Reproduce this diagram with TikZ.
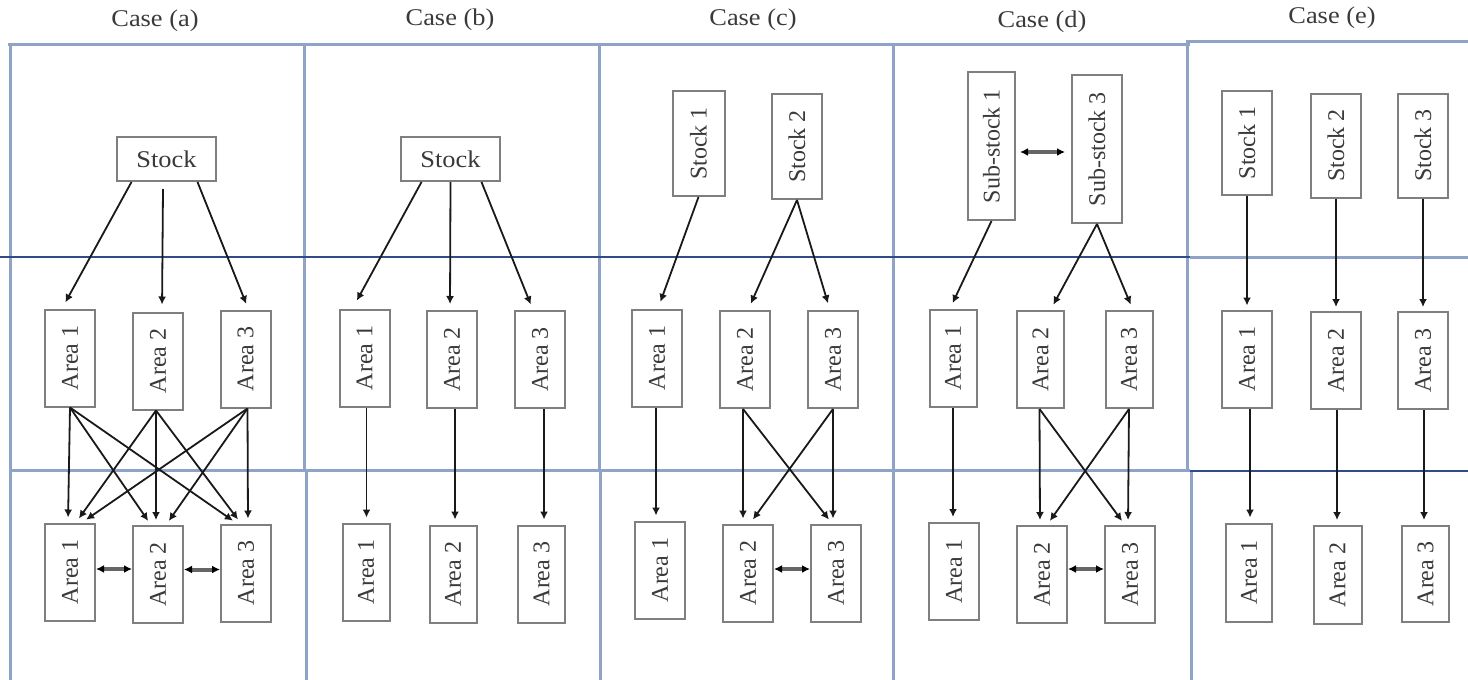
\documentclass[tikz,border=0pt]{standalone}
\usepackage{fontspec}
\setmainfont{Liberation Serif}
\usetikzlibrary{arrows.meta,calc}
\definecolor{gridlight}{HTML}{8FA3C7}
\definecolor{griddark}{HTML}{2F4B8A}
\definecolor{boxgray}{HTML}{7F7F7F}
\definecolor{txt}{HTML}{3A3A3A}
\newcommand{\myvt}[1]{\rotatebox{90}{#1}}
\newcommand{\myht}[1]{\scalebox{1.1}[1]{#1}}
\begin{document}
\begin{tikzpicture}[x=0.5pt,y=-0.5pt,
  box/.style={draw=boxgray, line width=1pt, fill=white, inner sep=0pt, text=txt, font=\fontsize{12}{14}\selectfont},
  hbox/.style={box, minimum width=49.5pt, minimum height=22pt},
  vbox/.style={box, minimum width=25pt, minimum height=48.5pt},
  title/.style={text=txt, font=\fontsize{12}{14}\selectfont},
  lightline/.style={draw=gridlight, line width=1.5pt},
  darkline/.style={draw=griddark, line width=1.4pt},
  arr/.style={-{Latex[length=4pt,width=4pt]}, line width=0.9pt, draw=black!90, shorten >=2.5pt},
  biarr/.style={{Latex[length=4pt,width=4pt,color=black]}-{Latex[length=4pt,width=4pt,color=black]}, line width=2pt, draw=gray!80!black}
]
\useasboundingbox (0,0) rectangle (1468,680);

% ---------- grid ----------
\draw[lightline] (8,44) -- (1190,44);
\draw[lightline] (1186,41) -- (1468,41);
\draw[lightline] (10,44) -- (10,680);
\draw[lightline] (304,44) -- (304,470);
\draw[lightline] (306,470) -- (306,680);
\draw[lightline] (599,44) -- (599,470);
\draw[lightline] (600,470) -- (600,680);
\draw[lightline] (893,44) -- (893,680);
\draw[lightline] (1187,41) -- (1187,470);
\draw[lightline] (1191,470) -- (1191,680);
\draw[lightline] (10,470) -- (1190,470);
\draw[lightline] (1190,257) -- (1468,257);
\draw[darkline] (0,257) -- (1190,257);
\draw[darkline] (1190,471) -- (1468,471);

% ---------- titles ----------
\node[title] (ta) at (155,21) {\myht{Case (a)}};
\node[title] (tb) at (450,20) {\myht{Case (b)}};
\node[title] (tc) at (753,20) {\myht{Case (c)}};
\node[title] (td) at (1042,22) {\myht{Case (d)}};
\node[title] (te) at (1332,18) {\myht{Case (e)}};

% ---------- case (a) ----------
\node[hbox] (aS) at (166.5,159) {\myht{Stock}};
\node[vbox] (aA1) at (70,358) {\myvt{Area 1}};
\node[vbox] (aA2) at (158,361) {\myvt{Area 2}};
\node[vbox] (aA3) at (245.5,359) {\myvt{Area 3}};
\node[vbox] (aB1) at (70,572) {\myvt{Area 1}};
\node[vbox] (aB2) at (158,574.5) {\myvt{Area 2}};
\node[vbox] (aB3) at (246,573) {\myvt{Area 3}};

\draw[arr, shorten >=3.5pt] ([xshift=-17.5pt]aS.south) -- ([xshift=-4pt]aA1.north);
\draw[arr, shorten >=3.5pt] ([shift={(-3.5,7)}]aS.south) -- ([xshift=2pt]aA2.north);
\draw[arr, shorten >=3pt] ([xshift=15.5pt]aS.south) -- ([xshift=1.5pt]aA3.north);

\draw[arr] (aA1.south) -- ([xshift=-1pt]aB1.north);
\draw[arr] (aA1.south) -- ([xshift=-3.5pt]aB2.north);
\draw[arr] (aA1.south) -- ([xshift=-4.5pt]aB3.north);
\draw[arr] ([xshift=-1pt]aA2.south) -- ([xshift=3pt]aB1.north);
\draw[arr] ([xshift=-1pt]aA2.south) -- ([xshift=-1pt]aB2.north);
\draw[arr] ([xshift=-1pt]aA2.south) -- ([xshift=-2.5pt]aB3.north);
\draw[arr] ([xshift=1pt]aA3.south) -- ([xshift=6pt]aB1.north);
\draw[arr] ([xshift=1pt]aA3.south) -- ([xshift=4pt]aB2.north);
\draw[arr] ([xshift=1pt]aA3.south) -- ([xshift=1pt]aB3.north);

\draw[biarr] ([yshift=1.5pt]aB1.east) -- ([yshift=1.5pt]aB1.east -| aB2.west);
\draw[biarr] ([yshift=2.5pt]aB2.east) -- ([yshift=2.5pt]aB2.east -| aB3.west);

% ---------- case (b) ----------
\node[hbox] (bS) at (450.5,159) {\myht{Stock}};
\node[vbox] (bA1) at (364.5,358) {\myvt{Area 1}};
\node[vbox] (bA2) at (452,359.5) {\myvt{Area 2}};
\node[vbox] (bA3) at (540,359.5) {\myvt{Area 3}};
\node[vbox, minimum width=23.5pt] (bB1) at (366,572) {\myvt{Area 1}};
\node[vbox, minimum width=23.5pt] (bB2) at (453,574) {\myvt{Area 2}};
\node[vbox, minimum width=23.5pt] (bB3) at (541.5,574) {\myvt{Area 3}};

\draw[arr, shorten >=4.5pt] ([xshift=-14.5pt]bS.south) -- ([xshift=-6pt]bA1.north);
\draw[arr, shorten >=3pt] (bS.south) -- ([xshift=-1pt]bA2.north);
\draw[arr, shorten >=3pt] ([xshift=15.5pt]bS.south) -- ([xshift=-3.5pt]bA3.north);
\draw[arr] ([xshift=1pt]bA1.south) -- ([xshift=1pt]bA1.south |- bB1.north);
\draw[arr] ([xshift=1.5pt]bA2.south) -- ([xshift=1.5pt]bA2.south |- bB2.north);
\draw[arr] ([xshift=2pt]bA3.south) -- ([xshift=2pt]bA3.south |- bB3.north);

% ---------- case (c) ----------
\node[box, minimum width=26pt, minimum height=52.5pt] (cS1) at (698.5,143.5) {\myvt{Stock 1}};
\node[box, minimum width=25pt, minimum height=52.5pt] (cS2) at (797,146.5) {\myvt{Stock 2}};
\node[vbox] (cA1) at (657,358) {\myvt{Area 1}};
\node[vbox] (cA2) at (745,359.5) {\myvt{Area 2}};
\node[vbox] (cA3) at (833,359.5) {\myvt{Area 3}};
\node[vbox] (cB1) at (660,570) {\myvt{Area 1}};
\node[vbox] (cB2) at (748,573) {\myvt{Area 2}};
\node[vbox] (cB3) at (836,573) {\myvt{Area 3}};

\draw[arr, shorten >=3.5pt] (cS1.south) -- ([xshift=0.5pt]cA1.north);
\draw[arr, shorten >=3.5pt] (cS2.south) -- ([xshift=1.5pt]cA2.north);
\draw[arr, shorten >=3.5pt] (cS2.south) -- ([xshift=-1.5pt]cA3.north);
\draw[arr] ([xshift=-0.5pt]cA1.south) -- ([xshift=-0.5pt]cA1.south |- cB1.north);
\draw[arr] ([xshift=-1pt]cA2.south) -- ([xshift=-2.5pt]cB2.north);
\draw[arr] ([xshift=-1pt]cA2.south) -- ([xshift=-2pt]cB3.north);
\draw[arr] (cA3.south) -- ([xshift=-1.5pt]cB3.north);
\draw[arr] (cA3.south) -- ([xshift=1pt]cB2.north);
\draw[biarr] ([yshift=2pt]cB2.east) -- ([yshift=2pt]cB2.east -| cB3.west);

% ---------- case (d) ----------
\node[box, minimum width=23.5pt, minimum height=74pt] (dS1) at (991.5,146) {\myvt{Sub-stock 1}};
\node[box, minimum width=25pt, minimum height=74pt] (dS3) at (1097,149) {\myvt{Sub-stock 3}};
\node[vbox, minimum width=23.5pt] (dA1) at (953,358) {\myvt{Area 1}};
\node[vbox, minimum width=23.5pt] (dA2) at (1040.5,359.5) {\myvt{Area 2}};
\node[vbox, minimum width=23.5pt] (dA3) at (1129,359.5) {\myvt{Area 3}};
\node[vbox] (dB1) at (954,571.5) {\myvt{Area 1}};
\node[vbox] (dB2) at (1042,574.5) {\myvt{Area 2}};
\node[vbox] (dB3) at (1130,574.5) {\myvt{Area 3}};

\draw[biarr, shorten <=2pt, shorten >=3pt] ([yshift=-3pt]dS1.east) -- ([yshift=-3pt]dS1.east -| dS3.west);
\draw[arr, shorten >=3pt] (dS1.south) -- ([xshift=-1.5pt]dA1.north);
\draw[arr, shorten >=3pt] (dS3.south) -- ([xshift=5pt]dA2.north);
\draw[arr, shorten >=3pt] (dS3.south) -- ([xshift=2pt]dA3.north);
\draw[arr] (dA1.south) -- (dA1.south |- dB1.north);
\draw[arr] ([xshift=-0.5pt]dA2.south) -- ([xshift=-1pt]dB2.north);
\draw[arr] ([xshift=-0.5pt]dA2.south) -- ([xshift=-2.5pt]dB3.north);
\draw[arr] (dA3.south) -- ([xshift=-1pt]dB3.north);
\draw[arr] (dA3.south) -- ([xshift=2.5pt]dB2.north);
\draw[biarr] ([yshift=2.75pt]dB2.east) -- ([yshift=2.75pt]dB2.east -| dB3.west);

% ---------- case (e) ----------
\node[box, minimum width=25pt, minimum height=52pt] (eS1) at (1247,143) {\myvt{Stock 1}};
\node[box, minimum width=25pt, minimum height=52pt] (eS2) at (1336,145.5) {\myvt{Stock 2}};
\node[box, minimum width=25pt, minimum height=52pt] (eS3) at (1423,145.5) {\myvt{Stock 3}};
\node[vbox] (eA1) at (1247,359) {\myvt{Area 1}};
\node[vbox] (eA2) at (1336,360.5) {\myvt{Area 2}};
\node[vbox] (eA3) at (1423,360.5) {\myvt{Area 3}};
\node[box, minimum width=23pt, minimum height=49pt] (eB1) at (1249,572.5) {\myvt{Area 1}};
\node[box, minimum width=24pt, minimum height=49pt] (eB2) at (1337.5,575) {\myvt{Area 2}};
\node[box, minimum width=23.5pt, minimum height=48pt] (eB3) at (1425.5,574) {\myvt{Area 3}};

\draw[arr, shorten >=2pt] (eS1.south) -- (eA1.north);
\draw[arr, shorten >=2pt] (eS2.south) -- (eA2.north);
\draw[arr, shorten >=2pt] (eS3.south) -- (eA3.north);
\draw[arr] ([xshift=1.5pt]eA1.south) -- ([xshift=1.5pt]eA1.south |- eB1.north);
\draw[arr] ([xshift=0.5pt]eA2.south) -- ([xshift=0.5pt]eA2.south |- eB2.north);
\draw[arr] ([xshift=0.5pt]eA3.south) -- ([xshift=0.5pt]eA3.south |- eB3.north);
\end{tikzpicture}
\end{document}
